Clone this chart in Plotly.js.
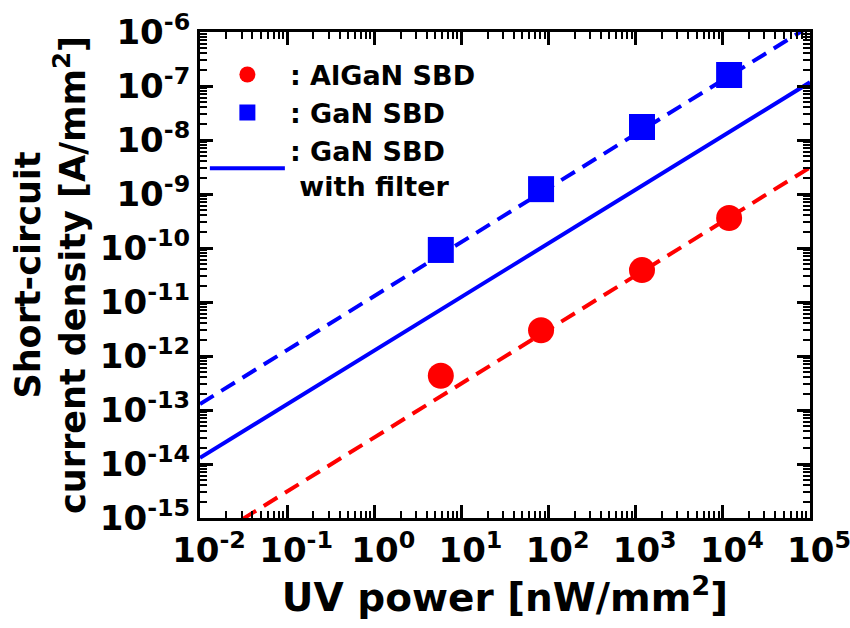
<!DOCTYPE html>
<html>
<head>
<meta charset="utf-8">
<script src="https://cdn.plot.ly/plotly-3.0.1.min.js"></script>
<style>html,body{margin:0;padding:0;background:#fff;}#chart{width:850px;height:628px;}</style>
</head>
<body>
<div id="chart"></div>
<script>
// UV power [nW/mm^2]
const uvPower = [5.8, 82, 1180, 11800];
// Short-circuit current density [A/mm^2]
const alganSBD = [4.3e-13, 3.0e-12, 3.9e-11, 3.6e-10];
const ganSBD = [9.2e-11, 1.23e-9, 1.74e-8, 1.6e-7];
// Fit / projection lines
const fitX = [0.01, 1e5];
const ganFit = [1.29e-13, 1.29e-6];
const ganFilterFit = [1.3e-14, 1.17e-7];
const alganFit = [3.1e-16, 3.1e-9];
// Tick labels
const xTickVals = [1e-2, 1e-1, 1e0, 1e1, 1e2, 1e3, 1e4, 1e5];
const xTickText = ['10<sup>-2</sup>','10<sup>-1</sup>','10<sup>0</sup>','10<sup>1</sup>','10<sup>2</sup>','10<sup>3</sup>','10<sup>4</sup>','10<sup>5</sup>'];
const yTickVals = [1e-15,1e-14,1e-13,1e-12,1e-11,1e-10,1e-9,1e-8,1e-7,1e-6];
const yTickText = ['10<sup>-15</sup>','10<sup>-14</sup>','10<sup>-13</sup>','10<sup>-12</sup>','10<sup>-11</sup>','10<sup>-10</sup>','10<sup>-9</sup>','10<sup>-8</sup>','10<sup>-7</sup>','10<sup>-6</sup>'];

const FONT = '"DejaVu Sans", "Liberation Sans", Arial, sans-serif';
const RED = '#ff0000', BLUE = '#0000ff';

const traces = [
  {x: fitX, y: alganFit, mode: 'lines', line: {color: RED, width: 4, dash: '16px,9px'}, showlegend: false, hoverinfo: 'skip'},
  {x: fitX, y: ganFit, mode: 'lines', line: {color: BLUE, width: 4, dash: '16px,9px'}, showlegend: false, hoverinfo: 'skip'},
  {x: uvPower, y: alganSBD, mode: 'markers', name: ': AlGaN SBD', marker: {symbol: 'circle', size: 26, color: RED}, legendrank: 1},
  {x: uvPower, y: ganSBD, mode: 'markers', name: ': GaN SBD', marker: {symbol: 'square', size: 26, color: BLUE}, legendrank: 2},
  {x: fitX, y: ganFilterFit, mode: 'lines', name: ': GaN SBD<br> with filter', line: {color: BLUE, width: 4}, legendrank: 3}
];

const axisCommon = {
  type: 'log',
  showline: true, linecolor: '#000', linewidth: 3,
  mirror: 'allticks',
  ticks: 'inside', ticklen: 13, tickwidth: 3, tickcolor: '#000',
  showgrid: false, zeroline: false,
  tickmode: 'array',
  tickfont: {family: FONT, size: 34, color: '#000', weight: 'bold'},
  minor: {ticks: 'inside', ticklen: 7, tickwidth: 2, tickcolor: '#000', dtick: 'D1', showgrid: false}
};

const layout = {
  width: 850, height: 628,
  margin: {l: 200, r: 40, t: 32, b: 110},
  paper_bgcolor: '#fff', plot_bgcolor: '#fff',
  font: {family: FONT, color: '#000'},
  showlegend: true,
  legend: {
    x: 0.008, y: 0.962, xanchor: 'left', yanchor: 'top',
    bgcolor: 'rgba(0,0,0,0)', itemwidth: 75,
    font: {family: FONT, size: 27, color: '#000', weight: 'bold'},
    tracegroupgap: 0
  },
  xaxis: Object.assign({}, axisCommon, {
    range: [-2, 5], tickvals: xTickVals, ticktext: xTickText,
    ticklabelshift: 9, ticklabeloverflow: 'allow',
    title: {text: 'UV power [nW/mm<sup>2</sup>]', font: {family: FONT, size: 39, color: '#000', weight: 'bold'}, standoff: 8}
  }),
  yaxis: Object.assign({}, axisCommon, {
    range: [-15, -6], tickvals: yTickVals, ticktext: yTickText,
    title: {text: 'Short-circuit<br>current density [A/mm<sup>2</sup>]', font: {family: FONT, size: 35, color: '#000', weight: 'bold'}, standoff: 4}
  })
};

Plotly.newPlot('chart', traces, layout, {displayModeBar: false, staticPlot: true});
</script>
</body>
</html>
